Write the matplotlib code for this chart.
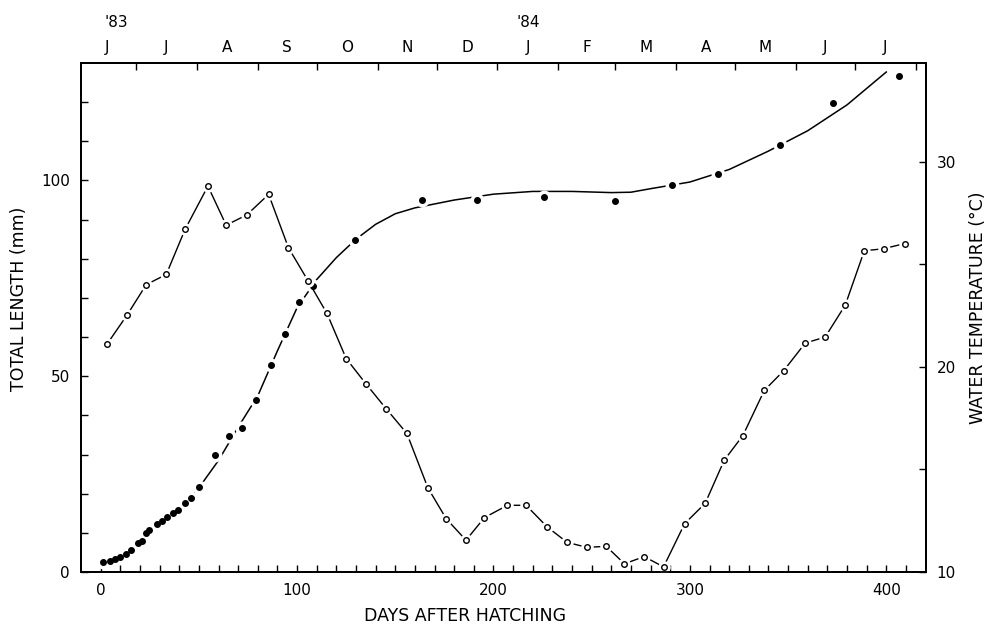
import matplotlib.pyplot as plt
import matplotlib.transforms as mtransforms

plt.rcParams['font.family'] = ['DejaVu Sans']

# water temperature, open circles, right axis
temp_days = [3.2, 13.3, 23.2, 33.4, 43.0, 54.6, 63.9, 74.4, 85.5, 95.6,
             105.5, 115.2, 125.0, 135.2, 145.4, 155.9, 166.6, 175.9, 186.0, 195.4,
             207.1, 216.6, 227.3, 237.4, 247.5, 257.4, 266.7, 276.7, 286.6, 297.3,
             307.8, 317.5, 327.0, 337.9, 347.7, 358.7, 368.9, 379.1, 388.8, 398.6,
             409.3]
temp_c = [21.1, 22.5, 24.0, 24.5, 26.7, 28.8, 26.9, 27.4, 28.4, 25.8,
          24.2, 22.6, 20.4, 19.15, 17.95, 16.75, 14.1, 12.6, 11.55, 12.65,
          13.25, 13.25, 12.2, 11.45, 11.2, 11.25, 10.4, 10.75, 10.25, 12.35,
          13.35, 15.45, 16.65, 18.85, 19.8, 21.15, 21.45, 23.0, 25.65, 25.75,
          26.0]

# total length, filled dots, left axis
len_days = [1.4, 4.5, 7.4, 9.9, 12.8, 15.4, 18.8, 21.0, 23.2, 24.4,
            28.6, 31.1, 33.7, 36.7, 39.6, 43.0, 45.9, 50.0, 58.3, 65.4,
            72.0, 79.2, 86.7, 93.9, 101.2, 107.9, 129.6, 163.5, 191.5, 225.8,
            262.0, 290.8, 314.3, 346.0, 373.1, 406.7]
len_mm = [2.5, 2.9, 3.2, 3.8, 4.6, 5.6, 7.3, 8.0, 9.9, 10.7,
          12.3, 13.1, 14.1, 15.0, 15.9, 17.7, 18.8, 21.7, 29.9, 34.8,
          36.9, 44.0, 52.9, 60.9, 68.9, 73.1, 84.9, 94.9, 94.9, 95.7,
          94.7, 98.9, 101.7, 109.0, 119.7, 126.7]

# growth curve as drawn in the figure
curve_days = [0, 10, 20, 30, 40, 50, 60, 70, 80, 90, 100, 110, 120, 130, 140,
              150, 160, 180, 200, 220, 240, 260, 270, 280, 300, 320, 340, 360,
              380, 400]
curve_mm = [2.2, 3.9, 7.6, 12.3, 16.0, 21.5, 28.5, 37.0, 45.0, 56.5, 67.5,
            74.7, 80.3, 85.0, 88.8, 91.5, 93.0, 95.0, 96.5, 97.2, 97.2, 96.9,
            97.0, 97.9, 99.6, 102.8, 107.5, 112.7, 119.3, 127.7]

# month boundaries (days after hatching) and labels for the top axis
month_edges = [-12, 18, 49, 80, 110, 141, 171, 202, 233, 262, 293, 323, 354, 384, 415]
month_labels = ['J', 'J', 'A', 'S', 'O', 'N', 'D', 'J', 'F', 'M', 'A', 'M', 'J', 'J']
years = [("'83", 8), ("'84", 217.5)]

fig = plt.figure(figsize=(9.86, 6.25), dpi=100)
ax = fig.add_axes([0.0822, 0.0848, 0.8565, 0.8144])

ax.plot(curve_days, curve_mm, color='black', lw=1.1, zorder=2)
ax.plot(len_days, len_mm, 'o', ms=9, color='white', zorder=3)
ax.plot(len_days, len_mm, 'o', ms=4, color='black', zorder=4)

ax.set_xlim(-10, 420)
ax.set_ylim(0, 130)
ax.set_xticks(range(0, 411, 10))
ax.set_xticklabels([str(d) if d % 100 == 0 else '' for d in range(0, 411, 10)])
ax.set_yticks(range(0, 121, 10))
ax.set_yticklabels([str(v) if v % 50 == 0 else '' for v in range(0, 121, 10)])
ax.tick_params(direction='in', length=5, width=1, labelsize=11, pad=8)

ax.set_xlabel('DAYS AFTER HATCHING', fontsize=12.5)
ax.xaxis.set_label_coords(0.455, -0.068)
ax.set_ylabel('TOTAL LENGTH (mm)', fontsize=12.5)
ax.yaxis.set_label_coords(-0.063, 0.536)

# water temperature on the right
ax2 = ax.twinx()
ax2.plot(temp_days, temp_c, color='black', lw=1.0, zorder=2)
ax2.plot(temp_days, temp_c, 'o', ms=8, color='white', zorder=3)
ax2.plot(temp_days, temp_c, 'o', ms=4, mfc='white', mec='black', mew=1.0, zorder=4)
ax2.set_ylim(10, 34.8)
ax2.set_yticks([10, 15, 20, 25, 30])
ax2.set_yticklabels(['10', '', '20', '', '30'])
ax2.tick_params(direction='in', length=5, width=1, labelsize=11, pad=8)
ax2.set_ylabel('WATER TEMPERATURE (°C)', fontsize=12.5)
ax2.yaxis.set_label_coords(1.052, 0.52)

# months along the top
ax3 = ax.twiny()
ax3.set_xlim(ax.get_xlim())
ax3.set_xticks([m for m in month_edges if -10 < m < 420])
ax3.set_xticklabels([])
mids = [(month_edges[i] + month_edges[i + 1]) / 2 for i in range(len(month_labels))]
ax3.set_xticks(mids, minor=True)
ax3.set_xticklabels(month_labels, minor=True)
ax3.tick_params(which='major', direction='in', length=5, width=1)
ax3.tick_params(which='minor', length=0, labelsize=11, pad=6)

trans = mtransforms.blended_transform_factory(ax.transData, ax.transAxes)
for txt, d in years:
    ax.text(d, 1.08, txt, transform=trans, ha='center', va='center', fontsize=11)

for a in (ax, ax2, ax3):
    for s in a.spines.values():
        s.set_linewidth(1.3)

fig.savefig('out.png', dpi=100)
